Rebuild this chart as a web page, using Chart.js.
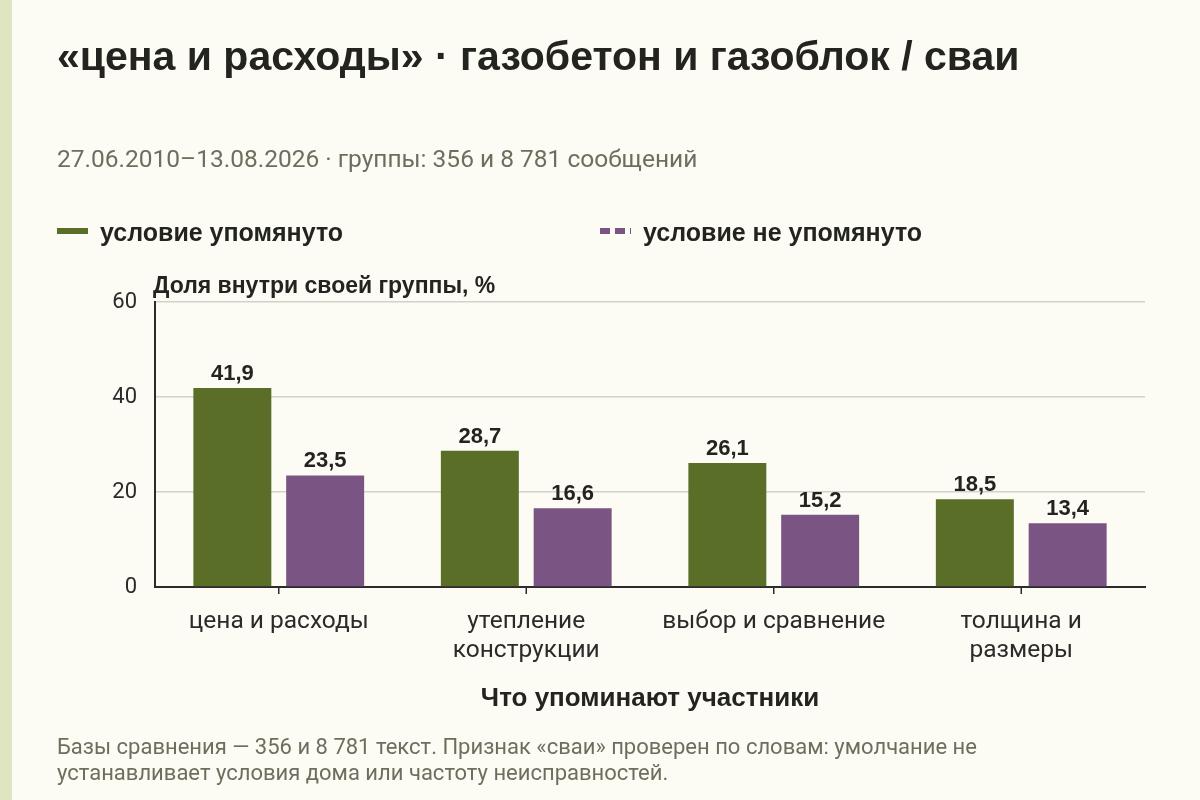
<!DOCTYPE html>
<html lang="ru">
<head>
<meta charset="utf-8">
<script src="https://cdn.jsdelivr.net/npm/chart.js@4.4.1/dist/chart.umd.min.js"></script>
<style>
  html, body { margin: 0; padding: 0; }
  body {
    width: 1200px; height: 800px; position: relative; overflow: hidden;
    background: #fdfcf4; font-family: "Liberation Sans", Arial, sans-serif; color: #222;
  }
  .stripe { position: absolute; left: 0; top: 0; width: 12px; height: 800px; background: #dfe5c1; }
  #chart { position: absolute; left: 0; top: 0; }
  .title { position: absolute; left: 57px; top: 33px; font-size: 41px; font-weight: bold; color: #23231f; white-space: nowrap; }
  .subtitle { position: absolute; left: 57px; top: 144px; font-family: Roboto, sans-serif; font-size: 24.5px; color: #6e6e5e; white-space: nowrap; }
  .legend-item { position: absolute; top: 218px; font-size: 25px; font-weight: bold; color: #23231f; white-space: nowrap; }
  .legend-item .sw { display: inline-block; width: 31px; height: 6px; vertical-align: middle; margin-right: 12px; position: relative; top: -3px; }
  .note { position: absolute; left: 57px; top: 734px; font-family: Roboto, sans-serif; font-size: 22px; line-height: 26px; color: #6e6e5e; white-space: nowrap; }
</style>
</head>
<body>
<div class="stripe"></div>
<canvas id="chart" width="1200" height="800"></canvas>
<div class="title">«цена и расходы» · газобетон и газоблок / сваи</div>
<div class="subtitle">27.06.2010–13.08.2026 · группы: 356 и 8 781 сообщений</div>
<div class="legend-item" style="left:57px"><span class="sw" style="background:#5a6e28"></span>условие упомянуто</div>
<div class="legend-item" style="left:600px"><span class="sw" style="background:repeating-linear-gradient(90deg,#7a5482 0 10px,transparent 10px 15px)"></span>условие не упомянуто</div>
<div class="note">Базы сравнения — 356 и 8 781 текст. Признак «сваи» проверен по словам: умолчание не<br>устанавливает условия дома или частоту неисправностей.</div>
<script>
// Chart data
const categories = [
    'цена и расходы',
    ['утепление', 'конструкции'],
    'выбор и сравнение',
    ['толщина и', 'размеры']
];
const mentioned = [41.9, 28.7, 26.1, 18.5];
const notMentioned = [23.5, 16.6, 15.2, 13.4];
const yTicks = [0, 20, 40, 60];

const GREEN = '#5a6e28';
const PURPLE = '#7a5482';

// Value labels above bars
const valueLabels = {
    id: 'valueLabels',
    afterDatasetsDraw(chart) {
        const ctx = chart.ctx;
        ctx.save();
        ctx.font = 'bold 22px "Liberation Sans", Arial, sans-serif';
        ctx.fillStyle = '#23231f';
        ctx.textAlign = 'center';
        ctx.textBaseline = 'alphabetic';
        chart.data.datasets.forEach((ds, i) => {
            chart.getDatasetMeta(i).data.forEach((bar, j) => {
                ctx.fillText(ds.data[j].toFixed(1).replace('.', ','), bar.x, bar.y - 8);
            });
        });
        ctx.restore();
    }
};

// Y axis caption at the top left of the plot, small ticks under category centres
const axisExtras = {
    id: 'axisExtras',
    afterDraw(chart) {
        const ctx = chart.ctx;
        const area = chart.chartArea;
        ctx.save();
        ctx.font = 'bold 23px "Liberation Sans", Arial, sans-serif';
        ctx.fillStyle = '#23231f';
        ctx.textAlign = 'left';
        ctx.fillText('Доля внутри своей группы, %', area.left - 2, area.top - 9);

        const xScale = chart.scales.x;
        ctx.strokeStyle = '#2b2b2b';
        ctx.lineWidth = 1.5;
        categories.forEach((c, i) => {
            const x = xScale.getPixelForValue(i);
            ctx.beginPath();
            ctx.moveTo(x, area.bottom + 1);
            ctx.lineTo(x, area.bottom + 7);
            ctx.stroke();
        });
        ctx.restore();
    }
};

new Chart(document.getElementById('chart'), {
    type: 'bar',
    data: {
        labels: categories,
        datasets: [
            { label: 'условие упомянуто', data: mentioned, backgroundColor: GREEN,
              categoryPercentage: 0.75, barPercentage: 0.84 },
            { label: 'условие не упомянуто', data: notMentioned, backgroundColor: PURPLE,
              categoryPercentage: 0.75, barPercentage: 0.84 }
        ]
    },
    options: {
        responsive: false,
        animation: false,
        layout: { padding: { left: 100, right: 55, top: 302, bottom: 82 } },
        plugins: { legend: { display: false }, tooltip: { enabled: false } },
        scales: {
            x: {
                grid: { display: false, tickLength: 7 },
                border: { display: true, color: '#2b2b2b', width: 2 },
                ticks: { color: '#2b2b2b', padding: 13, font: { family: 'Roboto', size: 24.5 }, maxRotation: 0 },
                title: { display: true, text: 'Что упоминают участники', color: '#23231f',
                         font: { family: '"Liberation Sans", Arial', size: 26, weight: 'bold' }, padding: { top: 10 } },
                afterFit(scale) { scale.height = 131; }
            },
            y: {
                min: 0, max: 60,
                afterBuildTicks(scale) { scale.ticks = yTicks.map(v => ({ value: v })); },
                grid: { color: '#d3d2c8', lineWidth: 1.5, drawTicks: false },
                border: { color: '#2b2b2b', width: 2 },
                ticks: { color: '#2b2b2b', padding: 18, font: { family: 'Roboto', size: 22 } },
                afterFit(scale) { scale.width = 55; }
            }
        }
    },
    plugins: [valueLabels, axisExtras]
});
</script>
</body>
</html>
